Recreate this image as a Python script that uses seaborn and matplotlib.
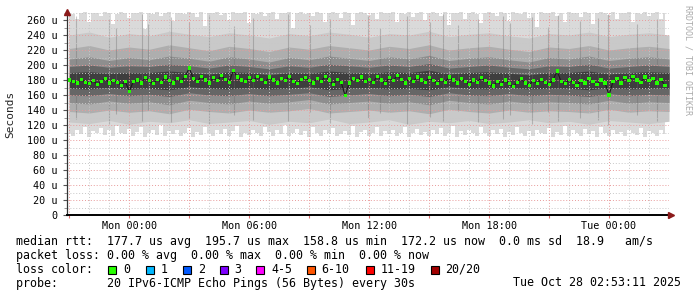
import matplotlib
matplotlib.use("Agg")
import matplotlib.pyplot as plt
import matplotlib.dates as mdates
import matplotlib.ticker as mticker
import numpy as np
import pandas as pd
import seaborn as sns
from matplotlib.patches import Rectangle

# ---------------- data ----------------
# median rtt (microseconds), one value every 12 min from Sun 21:00 to Tue 02:48
median_rtt = [
    180, 178, 176, 181, 177, 175, 179, 174, 178, 182, 176, 179, 177, 173, 178,
    165, 178, 180, 176, 183, 179, 175, 181, 177, 184, 179, 176, 182, 178, 185,
    196, 182, 178, 185, 180, 176, 183, 179, 186, 181, 177, 193, 184, 180, 178,
    183, 179, 185, 181, 177, 184, 180, 176, 182, 179, 185, 178, 175, 181, 183,
    179, 176, 182, 178, 185, 180, 174, 181, 177, 158.8, 176, 182, 179, 184, 178,
    181, 177, 185, 180, 175, 183, 179, 186, 181, 176, 182, 178, 184, 180, 177,
    183, 179, 175, 181, 177, 184, 180, 176, 182, 178, 174, 180, 177, 183, 179,
    176, 172, 178, 174, 180, 175, 171, 177, 182, 176, 173, 179, 175, 181, 177,
    174, 180, 192, 178, 175, 181, 177, 173, 179, 176, 182, 178, 174, 180, 176,
    160, 178, 182, 176, 183, 179, 185, 180, 177, 184, 179, 182, 176, 181, 172.2,
]

# outer smoke extent (lightest layer), same 12-min grid
smoke_outer_lo = [
    110, 106, 114, 108, 118, 104, 112, 109, 116, 107, 113, 105, 119, 110, 108, 115, 106, 111, 117, 104, 109, 113, 107, 120, 105, 112, 108, 114, 106, 110,
    116, 104, 111, 107, 118, 109, 105, 113, 108, 115, 106, 112, 119, 104, 110, 107, 114, 109, 105, 117, 111, 106, 113, 108, 120, 105, 110, 115, 107, 112,
    104, 118, 109, 106, 113, 110, 116, 105, 108, 112, 107, 119, 104, 111, 114, 106, 109, 117, 105, 112, 108, 113, 106, 110, 118, 104, 109, 115, 107, 111,
    105, 113, 108, 116, 106, 110, 119, 104, 112, 107, 114, 109, 105, 117, 110, 106, 113, 108, 115, 104, 111, 107, 118, 109, 105, 112, 106, 114, 110, 108,
    116, 104, 111, 107, 119, 105, 113, 109, 106, 115, 108, 112, 104, 117, 110, 106, 113, 108, 111, 105, 114, 109, 107, 116, 104, 112, 110, 106, 113, 108,
]
smoke_outer_hi = [
    270, 268, 262, 270, 271, 258, 269, 270, 265, 271, 270, 255, 268, 271, 270, 263, 270, 269, 271, 248, 270, 268, 271, 266, 270, 271, 259, 269, 270, 268,
    271, 270, 264, 271, 252, 269, 270, 271, 267, 270, 260, 271, 269, 270, 271, 256, 270, 268, 271, 265, 270, 271, 262, 270, 269, 271, 250, 270, 271, 268,
    270, 266, 271, 270, 258, 269, 271, 270, 263, 271, 270, 254, 269, 271, 270, 267, 270, 261, 271, 269, 270, 271, 257, 270, 268, 271, 264, 270, 271, 260,
    269, 271, 270, 266, 271, 253, 270, 269, 271, 262, 270, 271, 268, 256, 270, 271, 269, 265, 271, 270, 259, 271, 270, 268, 271, 263, 270, 251, 271, 269,
    270, 271, 266, 270, 258, 271, 269, 270, 264, 271, 270, 255, 269, 271, 270, 267, 271, 261, 270, 269, 271, 257, 270, 268, 271, 265, 270, 271, 262, 270,
]

# inner smoke layers, hourly from Sun 21:00 to Tue 03:00
band2_lo = [124, 122, 126, 121, 125, 123, 127, 122, 124, 126, 121, 125, 123, 128, 122, 124, 127, 121, 125, 123, 126, 122, 124, 127, 123, 125, 121, 126, 124, 122, 125]
band2_hi = [240, 244, 237, 242, 239, 245, 241, 238, 243, 240, 236, 242, 239, 244, 241, 237, 242, 240, 245, 238, 241, 243, 239, 236, 242, 240, 244, 238, 241, 243, 240]
band3_lo = [138, 136, 140, 137, 139, 135, 141, 138, 136, 140, 137, 139, 142, 136, 138, 140, 137, 139, 135, 141, 138, 136, 140, 137, 139, 138, 136, 141, 137, 139, 138]
band3_hi = [222, 226, 220, 224, 221, 227, 223, 219, 225, 222, 218, 224, 221, 226, 223, 220, 225, 222, 227, 220, 223, 225, 221, 218, 224, 222, 226, 220, 223, 225, 222]
band4_lo = [150, 148, 152, 149, 151, 147, 153, 150, 148, 152, 149, 151, 154, 148, 150, 152, 149, 151, 147, 153, 150, 148, 152, 149, 151, 150, 148, 153, 149, 151, 150]
band4_hi = [208, 211, 206, 210, 207, 212, 209, 205, 211, 208, 204, 210, 207, 212, 209, 206, 211, 208, 213, 206, 209, 211, 207, 204, 210, 208, 212, 206, 209, 211, 208]
band5_lo = [160, 159, 162, 159, 161, 158, 163, 160, 159, 162, 159, 161, 163, 158, 160, 162, 159, 161, 158, 163, 160, 159, 162, 159, 161, 160, 158, 162, 159, 161, 160]
band5_hi = [198, 200, 197, 199, 198, 201, 199, 196, 200, 198, 195, 199, 197, 201, 199, 197, 200, 198, 202, 196, 198, 200, 197, 195, 199, 198, 201, 196, 198, 200, 198]
band6_lo = [169, 168, 170, 168, 169, 167, 171, 169, 168, 170, 168, 169, 171, 167, 169, 170, 168, 169, 167, 171, 169, 168, 170, 168, 169, 169, 167, 170, 168, 169, 169]
band6_hi = [190, 191, 189, 190, 190, 192, 190, 188, 191, 190, 187, 190, 189, 192, 190, 189, 191, 190, 193, 188, 190, 191, 189, 187, 190, 190, 192, 188, 190, 191, 190]

# dark vertical streaks in the smoke (hours after Mon 00:00, low, high)
streak_hours = [-2.65, -1.0, -0.65, 0.65, 0.95, 2.1, 3.0, 4.0, 5.25, 6.2, 7.95, 9.05, 10.05, 11.95, 12.55,
                13.9, 15.05, 15.7, 16.45, 17.45, 18.7, 19.05, 20.15, 20.95, 21.45, 22.55, 23.45, 23.95, 25.4, 26.4]
streak_lo = [128, 122, 135, 126, 140, 124, 130, 121, 133, 127, 125, 138, 123, 129, 136,
             122, 131, 126, 139, 124, 128, 134, 121, 137, 125, 130, 127, 120, 133, 126]
streak_hi = [266, 262, 250, 268, 255, 264, 258, 267, 252, 263, 268, 254, 261, 266, 249,
             265, 257, 268, 253, 262, 266, 256, 264, 251, 267, 259, 263, 268, 255, 261]

y_ticks = [0, 20, 40, 60, 80, 100, 120, 140, 160, 180, 200, 220, 240, 260]
y_tick_labels = ["0"] + [f"{v} u" for v in y_ticks[1:]]

loss_labels = ["0", "1", "2", "3", "4-5", "6-10", "11-19", "20/20"]
loss_colors = ["#26ff00", "#00b8ff", "#0059ff", "#7e00ff", "#ff00ff", "#ff5500", "#ff0000", "#a10000"]

legend_lines = [
    "median rtt:  177.7 us avg  195.7 us max  158.8 us min  172.2 us now  0.0 ms sd  18.9   am/s",
    "packet loss: 0.00 % avg  0.00 % max  0.00 % min  0.00 % now",
    "loss color:",
    "probe:       20 IPv6-ICMP Echo Pings (56 Bytes) every 30s",
]
stamp = "Tue Oct 28 02:53:11 2025"

# ---------------- figure ----------------
sns.set_theme(style="white")
plt.rcParams["font.family"] = ["DejaVu Sans Mono"]

W, H = 697, 297
fig = plt.figure(figsize=(W / 100, H / 100), dpi=100)
fig.patch.set_facecolor("white")
ax = fig.add_axes([67 / W, 1 - 215 / H, 602 / W, 203 / H])
ax.set_facecolor("white")

times = pd.date_range("2025-10-26 21:00", periods=len(median_rtt), freq="12min")
hours = pd.date_range("2025-10-26 21:00", periods=len(band2_lo), freq="60min")
mon0 = pd.Timestamp("2025-10-27 00:00")
streak_times = [mon0 + pd.Timedelta(hours=h) for h in streak_hours]

ax.fill_between(times, smoke_outer_lo, smoke_outer_hi, step="mid", color="#dadada", lw=0, zorder=1)
for lo, hi, c in [(band2_lo, band2_hi, "#c9c9c9"),
                  (band3_lo, band3_hi, "#aeaeae"),
                  (band4_lo, band4_hi, "#8e8e8e"),
                  (band5_lo, band5_hi, "#666666"),
                  (band6_lo, band6_hi, "#3e3e3e")]:
    ax.fill_between(hours, lo, hi, color=c, lw=0, zorder=1)
ax.vlines(streak_times, streak_lo, streak_hi, color="#666666", lw=0.8, alpha=0.35, zorder=1.5)

df = pd.DataFrame({"time": times, "median": median_rtt})
sns.lineplot(data=df, x="time", y="median", color="#1a1a1a", lw=0.8, ax=ax, zorder=3)
sns.scatterplot(data=df, x="time", y="median", color="#22ff00", marker="s", s=5,
                edgecolor="none", linewidth=0, ax=ax, zorder=4)

ax.set_xlim(pd.Timestamp("2025-10-26 20:53"), pd.Timestamp("2025-10-28 03:00"))
ax.set_ylim(0, 270.7)
ax.set_xlabel("")
ax.set_ylabel("")

# grid
ax.xaxis.set_major_locator(mdates.HourLocator(byhour=range(0, 24, 3)))
ax.xaxis.set_minor_locator(mdates.HourLocator())


def xfmt(x, pos):
    d = mdates.num2date(x)
    return d.strftime("%a %H:%M") if d.hour % 6 == 0 else ""


ax.xaxis.set_major_formatter(mticker.FuncFormatter(xfmt))
ax.set_yticks(y_ticks)
ax.set_yticklabels(y_tick_labels)
ax.yaxis.set_minor_locator(mticker.MultipleLocator(10))

ax.set_axisbelow(False)
ax.grid(which="minor", color="#c8c8c8", lw=0.7, ls=(0, (1, 2)), zorder=2.5)
ax.grid(which="major", color="#e89a9a", lw=0.7, ls=(0, (1, 2)), zorder=2.6)

ax.tick_params(axis="x", which="major", length=2, width=0.8, color="#e07070", pad=2,
               labelsize=7.3, labelcolor="#000000")
ax.tick_params(axis="x", which="minor", length=0)
ax.tick_params(axis="y", which="major", length=3, width=0.8, color="#555555", pad=4,
               labelsize=7.3, labelcolor="#000000")
ax.tick_params(axis="y", which="minor", length=2, width=0.6, color="#888888")
ax.xaxis.set_ticks_position("bottom")
ax.yaxis.set_ticks_position("left")

for s in ["top", "right"]:
    ax.spines[s].set_visible(False)
ax.spines["bottom"].set_color("#000000")
ax.spines["bottom"].set_linewidth(1.4)
ax.spines["bottom"].set_zorder(5)
ax.spines["left"].set_color("#333333")
ax.spines["left"].set_linewidth(0.9)
ax.spines["left"].set_zorder(5)

# axis arrows
ax.plot([0], [1.0], marker="^", markersize=4.5, color="#8b1a1a", transform=ax.transAxes,
        clip_on=False, zorder=6)
ax.plot([1.004], [0], marker=">", markersize=4.5, color="#8b1a1a", transform=ax.transAxes,
        clip_on=False, zorder=6)

# texts
fig.text(10 / W, 1 - 114 / H, "Seconds", rotation=90, ha="center", va="center", fontsize=8)
fig.text(688 / W, 1 - 60 / H, "RRDTOOL / TOBI OETIKER", rotation=270, ha="center", va="center",
         fontsize=6, color="#aaaaaa")

fs = 8.4
ys = [241.5, 255.3, 269.3, 283]
for t, y in zip(legend_lines, ys):
    fig.text(16 / W, 1 - y / H, t, ha="left", va="center", fontsize=fs, color="#000000")
fig.text(681 / W, 1 - ys[3] / H, stamp, ha="right", va="center", fontsize=fs, color="#000000")

box_x = [108.3, 145.7, 182.7, 219.7, 256.3, 306.7, 365.5, 430.7]
lab_x = [123.5, 160.7, 197.7, 234.5, 271.2, 321.7, 380.5, 445.5]
for bx, lx, lab, col in zip(box_x, lab_x, loss_labels, loss_colors):
    fig.patches.append(Rectangle((bx / W, 1 - 273.5 / H), 8 / W, 8 / H, transform=fig.transFigure,
                                 facecolor=col, edgecolor="#000000", lw=0.8, figure=fig))
    fig.text(lx / W, 1 - ys[2] / H, lab, ha="left", va="center", fontsize=fs, color="#000000")

fig.savefig("out.png", dpi=100, facecolor="white")
